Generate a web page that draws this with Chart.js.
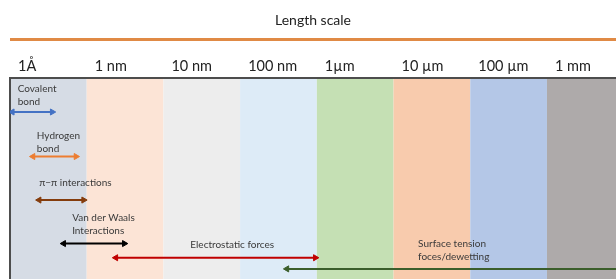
<!DOCTYPE html>
<html>
<head>
<meta charset="utf-8">
<script src="https://cdn.jsdelivr.net/npm/chart.js@4.4.1/dist/chart.umd.min.js"></script>
<style>
  html, body { margin: 0; padding: 0; background: #fff; }
  #wrap { width: 616px; height: 279px; }
</style>
</head>
<body>
<div id="wrap"><canvas id="chart"></canvas></div>
<script>
// x values are log10 of the length in metres
let tick_values = [-10, -9, -8, -7, -6, -5, -4, -3];
let tick_labels = ['1Å', '1 nm', '10 nm', '100 nm', '1µm', '10 µm', '100 µm', '1 mm'];
let band_starts = [-10, -9, -8, -7, -6, -5, -4, -3];
let band_ends = [-9, -8, -7, -6, -5, -4, -3, -2];
let band_colors = ['#d6dce5', '#fce4d6', '#ededed', '#ddebf7', '#c5e0b4', '#f8cbad', '#b4c7e7', '#aeaaaa'];

// interaction ranges (row value runs top to bottom)
let force_names = ['Covalent bond', 'Hydrogen bond', 'π−π interactions', 'Van der Waals Interactions', 'Electrostatic forces', 'Surface tension foces/dewetting'];
let force_from = [-9.97, -9.70, -9.62, -9.30, -8.62, -6.39];
let force_to = [-9.45, -9.14, -9.04, -8.51, -6.02, -1.5];
let force_row = [34, 78, 121, 164, 178, 189];
let force_colors = ['#4472c4', '#ed7d31', '#843c0c', '#000000', '#c00000', '#3b5e2b'];

// label text lines and anchor (data units)
let label_lines = [['Covalent', 'bond'], ['Hydrogen', 'bond'], ['π−π interactions'], ['Van der Waals', 'Interactions'], ['Electrostatic forces'], ['Surface tension', 'foces/dewetting']];
let label_x = [-9.90, -9.65, -9.62, -9.19, -7.65, -4.68];
let label_y = [11, 57, 104, 139, 165, 164];

let datasets = force_names.map(function (name, i) {
    return {
        label: name,
        data: [{x: force_from[i], y: force_row[i]}, {x: force_to[i], y: force_row[i]}],
        showLine: true,
        borderColor: force_colors[i],
        backgroundColor: force_colors[i],
        borderWidth: 2,
        pointStyle: 'triangle',
        pointRadius: 3.5,
        pointBorderWidth: 1,
        pointRotation: [-90, 90],
        pointHoverRadius: 3.5
    };
});

let bandPlugin = {
    id: 'bands',
    beforeDraw: function (chart) {
        let ctx = chart.ctx;
        let area = chart.chartArea;
        let xs = chart.scales.x;
        ctx.save();
        for (let i = 0; i < band_starts.length; i++) {
            let x0 = xs.getPixelForValue(band_starts[i]);
            let x1 = xs.getPixelForValue(band_ends[i]);
            ctx.fillStyle = band_colors[i];
            ctx.fillRect(x0, area.top, x1 - x0, chart.height - area.top);
        }
        // orange rule under the title
        ctx.strokeStyle = '#e08a45';
        ctx.lineWidth = 3;
        ctx.beginPath();
        ctx.moveTo(area.left, area.top - 38);
        ctx.lineTo(chart.width, area.top - 38);
        ctx.stroke();
        // left frame
        ctx.strokeStyle = '#4d4d4d';
        ctx.lineWidth = 2;
        ctx.beginPath();
        ctx.moveTo(area.left, area.top);
        ctx.lineTo(area.left, chart.height);
        ctx.stroke();
        ctx.restore();
    },
    afterDatasetsDraw: function (chart) {
        let ctx = chart.ctx;
        let xs = chart.scales.x;
        let ys = chart.scales.y;
        ctx.save();
        ctx.font = '10px Lato';
        ctx.fillStyle = '#3a3a3a';
        ctx.textAlign = 'left';
        ctx.textBaseline = 'middle';
        for (let i = 0; i < label_lines.length; i++) {
            let px = xs.getPixelForValue(label_x[i]);
            let py = ys.getPixelForValue(label_y[i]);
            label_lines[i].forEach(function (line, j) {
                ctx.fillText(line, px, py + j * 13);
            });
        }
        ctx.restore();
    }
};

let graph_config = {
    type: 'scatter',
    data: {datasets: datasets},
    options: {
        responsive: true,
        maintainAspectRatio: false,
        animation: false,
        layout: {autoPadding: false, padding: {left: 10, right: 0, top: 0, bottom: 0}},
        plugins: {
            legend: {display: false},
            tooltip: {enabled: false},
            title: {
                display: true,
                text: 'Length scale',
                color: '#222',
                font: {family: 'Lato', size: 14, weight: 'normal'},
                padding: {top: 12, bottom: 26.2}
            }
        },
        scales: {
            x: {
                type: 'linear',
                position: 'top',
                min: -10,
                max: -2.1,
                afterBuildTicks: function (scale) {
                    scale.ticks = tick_values.map(function (v) { return {value: v}; });
                },
                grid: {display: false, drawTicks: false},
                border: {display: true, color: '#4d4d4d', width: 2},
                ticks: {
                    align: 'start',
                    labelOffset: 8,
                    padding: 2.6,
                    color: '#222',
                    font: {family: 'Lato', size: 14.5},
                    maxRotation: 0,
                    autoSkip: false,
                    callback: function (value, index) { return tick_labels[index]; }
                }
            },
            y: {
                type: 'linear',
                display: false,
                reverse: true,
                min: 0,
                max: 199
            }
        }
    },
    plugins: [bandPlugin]
};

let chart = new Chart(document.getElementById('chart').getContext('2d'), graph_config);
</script>
</body>
</html>
